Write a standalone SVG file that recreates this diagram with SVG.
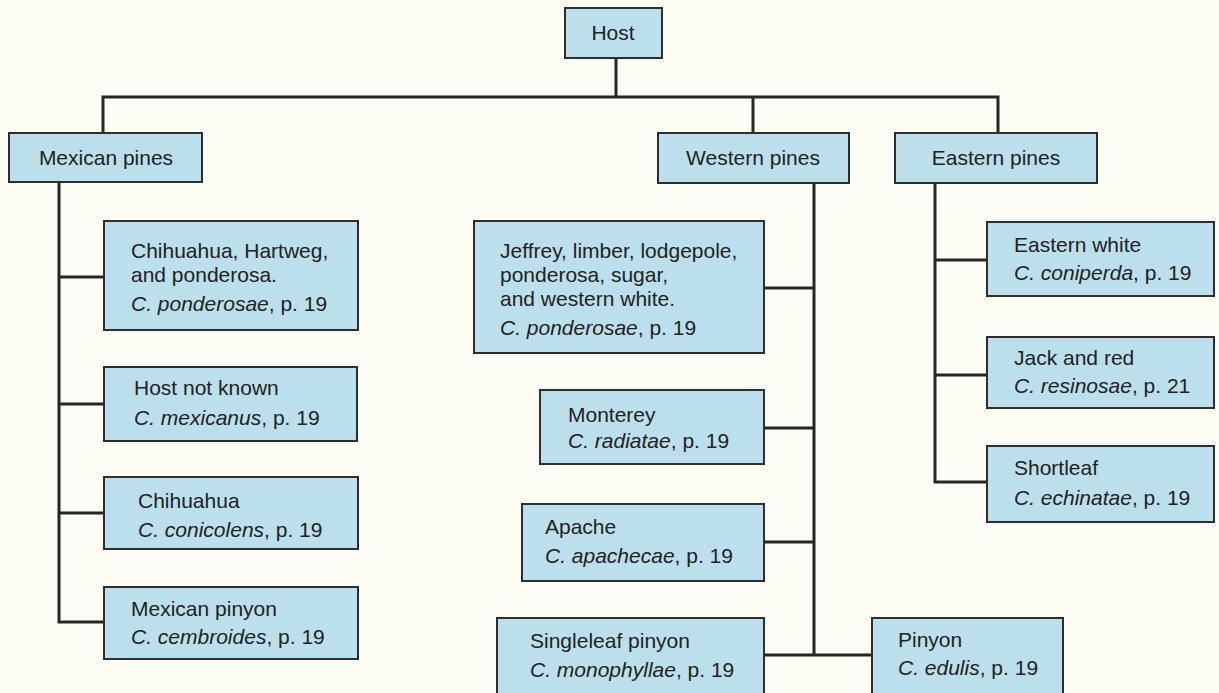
<svg xmlns="http://www.w3.org/2000/svg" width="1219" height="693" viewBox="0 0 1219 693">
  <style>
    .bg { fill: #fcfbf4; }
    .box { fill: #bcdfec; stroke: #2e2e2e; stroke-width: 2; }
    .wire { fill: none; stroke: #262626; stroke-width: 3; stroke-linecap: square; stroke-linejoin: miter; }
    text { font-family: "Liberation Sans", Arial, Helvetica, sans-serif; font-size: 21px; fill: #222222; }
    .mid { text-anchor: middle; }
    .sp { font-style: italic; }
  </style>

  <rect class="bg" x="0" y="0" width="1219" height="693"/>

  <!-- connectors -->
  <g id="connectors">
    <path class="wire" d="M616,58 V97 M103,133 V97 H998 V133 M753,97 V133"/>
    <!-- Mexican pines branch -->
    <path class="wire" d="M59,182 V622 H104 M59,277 H104 M59,404 H104 M59,513 H104"/>
    <!-- Western pines branch -->
    <path class="wire" d="M814,183 V655 M764,288 H814 M764,428 H814 M764,542 H814 M764,655 H872"/>
    <!-- Eastern pines branch -->
    <path class="wire" d="M935,183 V482 H987 M935,260 H987 M935,375 H987"/>
  </g>

  <!-- top level -->
  <g id="host">
    <rect class="box" x="565" y="8" width="97" height="50"/>
    <text class="mid" x="613" y="40">Host</text>
  </g>

  <g id="mexican-pines">
    <rect class="box" x="9" y="133" width="193" height="49"/>
    <text class="mid" x="106" y="165">Mexican pines</text>
  </g>

  <g id="western-pines">
    <rect class="box" x="658" y="133" width="191" height="50"/>
    <text class="mid" x="753" y="165">Western pines</text>
  </g>

  <g id="eastern-pines">
    <rect class="box" x="895" y="133" width="202" height="50"/>
    <text class="mid" x="996" y="165">Eastern pines</text>
  </g>

  <!-- Mexican pines hosts -->
  <g id="mx-ponderosae">
    <rect class="box" x="104" y="221" width="254" height="109"/>
    <text x="131" y="258">Chihuahua, Hartweg,</text>
    <text x="131" y="282">and ponderosa.</text>
    <text x="131" y="311"><tspan class="sp">C. ponderosae</tspan>, p. 19</text>
  </g>

  <g id="mx-mexicanus">
    <rect class="box" x="104" y="367" width="253" height="74"/>
    <text x="134" y="395">Host not known</text>
    <text x="134" y="425"><tspan class="sp">C. mexicanus</tspan>, p. 19</text>
  </g>

  <g id="mx-conicolens">
    <rect class="box" x="104" y="477" width="254" height="72"/>
    <text x="138" y="508">Chihuahua</text>
    <text x="138" y="537"><tspan class="sp">C. conicolens</tspan>, p. 19</text>
  </g>

  <g id="mx-cembroides">
    <rect class="box" x="104" y="587" width="254" height="72"/>
    <text x="131" y="616">Mexican pinyon</text>
    <text x="131" y="644"><tspan class="sp">C. cembroides</tspan>, p. 19</text>
  </g>

  <!-- Western pines hosts -->
  <g id="w-ponderosae">
    <rect class="box" x="474" y="221" width="290" height="132"/>
    <text x="500" y="258">Jeffrey, limber, lodgepole,</text>
    <text x="500" y="282">ponderosa, sugar,</text>
    <text x="500" y="306">and western white.</text>
    <text x="500" y="335"><tspan class="sp">C. ponderosae</tspan>, p. 19</text>
  </g>

  <g id="w-radiatae">
    <rect class="box" x="540" y="390" width="224" height="74"/>
    <text x="568" y="422">Monterey</text>
    <text x="568" y="448"><tspan class="sp">C. radiatae</tspan>, p. 19</text>
  </g>

  <g id="w-apachecae">
    <rect class="box" x="522" y="504" width="242" height="77"/>
    <text x="545" y="534">Apache</text>
    <text x="545" y="563"><tspan class="sp">C. apachecae</tspan>, p. 19</text>
  </g>

  <g id="w-monophyllae">
    <rect class="box" x="497" y="618" width="267" height="80"/>
    <text x="530" y="648">Singleleaf pinyon</text>
    <text x="530" y="677"><tspan class="sp">C. monophyllae</tspan>, p. 19</text>
  </g>

  <g id="w-edulis">
    <rect class="box" x="872" y="618" width="191" height="80"/>
    <text x="898" y="647">Pinyon</text>
    <text x="898" y="675"><tspan class="sp">C. edulis</tspan>, p. 19</text>
  </g>

  <!-- Eastern pines hosts -->
  <g id="e-coniperda">
    <rect class="box" x="987" y="222" width="227" height="74"/>
    <text x="1014" y="252">Eastern white</text>
    <text x="1014" y="280"><tspan class="sp">C. coniperda</tspan>, p. 19</text>
  </g>

  <g id="e-resinosae">
    <rect class="box" x="987" y="337" width="227" height="71"/>
    <text x="1014" y="365">Jack and red</text>
    <text x="1014" y="393"><tspan class="sp">C. resinosae</tspan>, p. 21</text>
  </g>

  <g id="e-echinatae">
    <rect class="box" x="987" y="446" width="227" height="76"/>
    <text x="1014" y="475">Shortleaf</text>
    <text x="1014" y="505"><tspan class="sp">C. echinatae</tspan>, p. 19</text>
  </g>
</svg>
